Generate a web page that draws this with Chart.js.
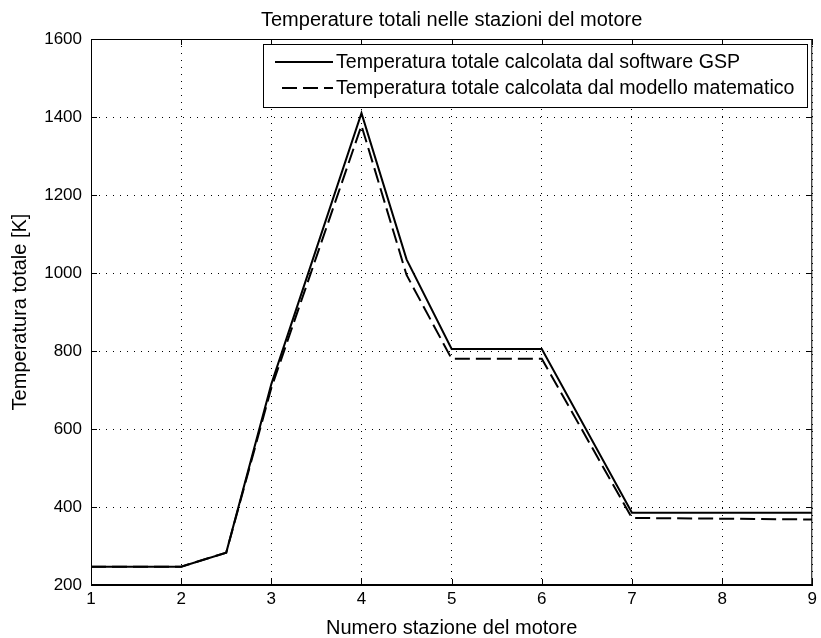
<!DOCTYPE html>
<html>
<head>
<meta charset="utf-8">
<script src="https://cdn.jsdelivr.net/npm/chart.js@4.4.1/dist/chart.umd.min.js"></script>
<style>
html, body { margin: 0; padding: 0; background: #fff; }
#wrap { width: 821px; height: 638px; }
</style>
</head>
<body>
<div id="wrap"><canvas id="grafico" width="821" height="638"></canvas></div>
<script>
// Dati
const stazioni = [1, 2, 2.5, 3, 4, 4.5, 5, 6, 7, 8, 9];
const tempGSP = [247, 247, 283, 715, 1410, 1035, 805, 805, 385, 385, 385];
const tempModello = [247, 247, 283, 705, 1378, 995, 780, 780, 372, 370, 368];

const etichette = [
    "Temperatura totale calcolata dal software GSP",
    "Temperatura totale calcolata dal modello matematico"
];
const titolo = "Temperature totali nelle stazioni del motore";
const titoloX = "Numero stazione del motore";
const titoloY = "Temperatura totale [K]";
const tickX = [1, 2, 3, 4, 5, 6, 7, 8, 9];
const tickY = [200, 400, 600, 800, 1000, 1200, 1400, 1600];

const FONT = "'Liberation Sans', Arial, sans-serif";
const tratteggio = [15, 6];

// Bordo del grafico, tacche interne, titolo e legenda (stile MATLAB)
const cornice = {
    id: "cornice",
    afterDatasetsDraw(chart) {
        const { ctx, chartArea: a, scales } = chart;
        ctx.save();
        ctx.strokeStyle = "#000";
        ctx.lineWidth = 1;
        ctx.setLineDash([]);
        ctx.strokeRect(a.left + 0.5, a.top + 0.5, a.right - a.left - 1, a.bottom - a.top - 1);

        const L = 6;
        ctx.beginPath();
        tickX.forEach(v => {
            const x = Math.round(scales.x.getPixelForValue(v)) + 0.5;
            ctx.moveTo(x, a.bottom); ctx.lineTo(x, a.bottom - L);
            ctx.moveTo(x, a.top); ctx.lineTo(x, a.top + L);
        });
        tickY.forEach(v => {
            const y = Math.round(scales.y.getPixelForValue(v)) + 0.5;
            ctx.moveTo(a.left, y); ctx.lineTo(a.left + L, y);
            ctx.moveTo(a.right, y); ctx.lineTo(a.right - L, y);
        });
        ctx.stroke();

        // titolo centrato sull'area del grafico
        ctx.fillStyle = "#000";
        ctx.font = "20px " + FONT;
        ctx.textAlign = "center";
        ctx.textBaseline = "middle";
        ctx.fillText(titolo, (a.left + a.right) / 2, 20);

        // legenda
        const bx = 263, by = 44, bw = 544, bh = 63;
        ctx.fillStyle = "#fff";
        ctx.fillRect(bx, by, bw, bh);
        ctx.strokeRect(bx + 0.5, by + 0.5, bw, bh);
        const righe = [62, 88];
        chart.data.datasets.forEach((ds, i) => {
            ctx.beginPath();
            ctx.lineWidth = 2;
            ctx.setLineDash(ds.borderDash || []);
            ctx.moveTo(i === 0 ? 275 : 282, righe[i]);
            ctx.lineTo(333, righe[i]);
            ctx.stroke();
            ctx.setLineDash([]);
            ctx.fillStyle = "#000";
            ctx.font = "19.6px " + FONT;
            ctx.textBaseline = "middle";
            ctx.textAlign = "left";
            ctx.fillText(ds.label, 336, righe[i] + 1);
        });
        ctx.restore();
    }
};

const ctx = document.getElementById("grafico").getContext("2d");

new Chart(ctx, {
    type: "line",
    data: {
        datasets: [
            {
                label: etichette[0],
                data: stazioni.map((s, i) => ({ x: s, y: tempGSP[i] })),
                borderColor: "#000",
                borderWidth: 2,
                pointRadius: 0,
                tension: 0
            },
            {
                label: etichette[1],
                data: stazioni.map((s, i) => ({ x: s, y: tempModello[i] })),
                borderColor: "#000",
                borderWidth: 2,
                borderDash: tratteggio,
                pointRadius: 0,
                tension: 0
            }
        ]
    },
    options: {
        responsive: false,
        devicePixelRatio: 1,
        animation: false,
        layout: { padding: { top: 39, right: 6, bottom: 0, left: 0 } },
        plugins: {
            legend: { display: false },
            tooltip: { enabled: false },
            title: { display: false }
        },
        scales: {
            x: {
                type: "linear",
                min: 1,
                max: 9,
                afterBuildTicks: s => { s.ticks = tickX.map(v => ({ value: v })); },
                afterFit: s => { s.height = 53; },
                grid: { color: "#000", lineWidth: 1, drawTicks: false },
                border: { display: true, color: "#000", dash: [1, 6] },
                ticks: {
                    color: "#000",
                    padding: 4,
                    maxRotation: 0,
                    callback: v => String(v),
                    font: { family: FONT, size: 17 }
                },
                title: {
                    display: true,
                    text: titoloX,
                    color: "#000",
                    font: { family: FONT, size: 20, lineHeight: 1 },
                    padding: { top: 0, bottom: 0 }
                }
            },
            y: {
                type: "linear",
                min: 200,
                max: 1600,
                afterBuildTicks: s => { s.ticks = tickY.map(v => ({ value: v })); },
                afterFit: s => { s.width = 91; },
                grid: { color: "#000", lineWidth: 1, drawTicks: false },
                border: { display: true, color: "#000", dash: [1, 6] },
                ticks: {
                    color: "#000",
                    padding: 9,
                    callback: v => String(v),
                    font: { family: FONT, size: 17 }
                },
                title: {
                    display: true,
                    text: titoloY,
                    color: "#000",
                    font: { family: FONT, size: 20, lineHeight: 1.2 },
                    padding: { top: 8, bottom: 0 }
                }
            }
        }
    },
    plugins: [cornice]
});
</script>
</body>
</html>
